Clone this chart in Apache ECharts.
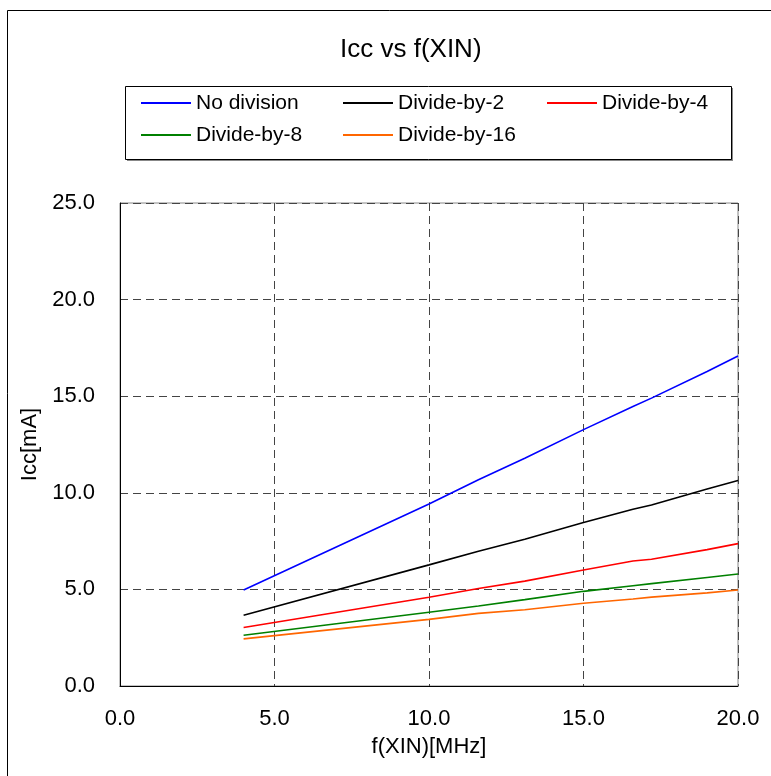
<!DOCTYPE html>
<html>
<head>
<meta charset="utf-8">
<script src="https://cdn.jsdelivr.net/npm/echarts@6/dist/echarts.min.js"></script>
<style>html,body{margin:0;padding:0;background:#fff;}#c{width:771px;height:776px;}</style>
</head>
<body>
<div id="c"></div>
<script>
const freq = [4, 10, 11.6, 13.1, 15, 16.6, 17.2, 19, 20];
const seriesNames = ['No division', 'Divide-by-2', 'Divide-by-4', 'Divide-by-8', 'Divide-by-16'];
const noDivision = [4.97, 9.42, 10.68, 11.79, 13.27, 14.47, 14.9, 16.28, 17.08];
const divBy2 = [3.66, 6.27, 6.97, 7.6, 8.46, 9.15, 9.37, 10.2, 10.64];
const divBy4 = [3.03, 4.59, 5.05, 5.43, 6.0, 6.47, 6.56, 7.06, 7.37];
const divBy8 = [2.63, 3.82, 4.14, 4.47, 4.9, 5.19, 5.3, 5.62, 5.8];
const divBy16 = [2.44, 3.45, 3.76, 3.95, 4.28, 4.5, 4.6, 4.82, 4.97];
const xTicks = [0, 5, 10, 15, 20];
const yTicks = [0, 5, 10, 15, 20, 25];

const values = [noDivision, divBy2, divBy4, divBy8, divBy16];
const colors = ['#0000ff', '#000000', '#ff0000', '#008000', '#ff6600'];
const FONT = 'Liberation Sans, Arial, sans-serif';

const chart = echarts.init(document.getElementById('c'), null, {renderer: 'canvas'});

const legendPos = [[141, 92], [343, 92], [547, 92], [141, 124], [343, 124]];
const legends = seriesNames.map((n, i) => ({
  data: [{name: n, icon: 'rect'}],
  left: legendPos[i][0],
  top: legendPos[i][1],
  itemWidth: 50,
  itemHeight: 2,
  padding: 0,
  selectedMode: false,
  textStyle: {fontFamily: FONT, fontSize: 21, color: '#000', lineHeight: 22}
}));

chart.setOption({
  animation: false,
  backgroundColor: '#fff',
  title: {
    text: 'Icc vs f(XIN)',
    left: 340, top: 37, padding: 0,
    textStyle: {fontFamily: FONT, fontSize: 26, fontWeight: 'normal', color: '#000'}
  },
  legend: legends,
  graphic: [
    {type: 'rect', shape: {x: 7.5, y: 10.5, width: 800, height: 800}, style: {fill: null, stroke: '#000', lineWidth: 1}, silent: true},
    {type: 'rect', shape: {x: 127, y: 88, width: 606, height: 73}, style: {fill: '#888', stroke: null}, silent: true, z: -1},
    {type: 'rect', shape: {x: 125.5, y: 86.5, width: 606, height: 73}, style: {fill: '#fff', stroke: '#000', lineWidth: 1}, silent: true, z: 0}
  ],
  grid: {left: 120, right: 33, top: 203, bottom: 90, show: true, borderColor: '#888', borderWidth: 1},
  xAxis: {
    type: 'value', min: xTicks[0], max: xTicks[xTicks.length - 1], interval: 5,
    name: 'f(XIN)[MHz]', nameLocation: 'middle', nameGap: 50,
    nameTextStyle: {fontFamily: FONT, fontSize: 22, color: '#000'},
    axisLine: {show: true, lineStyle: {color: '#000', width: 1}},
    axisTick: {show: false},
    axisLabel: {fontFamily: FONT, fontSize: 22, color: '#000', margin: 22, formatter: v => v.toFixed(1)},
    splitLine: {show: true, lineStyle: {color: '#444', type: [8, 5], width: 1}}
  },
  yAxis: {
    type: 'value', min: yTicks[0], max: yTicks[yTicks.length - 1], interval: 5,
    name: 'Icc[mA]', nameLocation: 'middle', nameGap: 72, nameRotate: 90,
    nameTextStyle: {fontFamily: FONT, fontSize: 22, color: '#000'},
    axisLine: {show: true, lineStyle: {color: '#000', width: 1}},
    axisTick: {show: false},
    axisLabel: {fontFamily: FONT, fontSize: 22, color: '#000', margin: 25, formatter: v => v.toFixed(1)},
    splitLine: {show: true, lineStyle: {color: '#444', type: [8, 5], width: 1}}
  },
  series: seriesNames.map((n, i) => ({
    name: n, type: 'line', symbol: 'none',
    data: freq.map((f, j) => [f, values[i][j]]),
    lineStyle: {color: colors[i], width: 1.6},
    itemStyle: {color: colors[i]},
    z: 5
  }))
});
</script>
</body>
</html>
